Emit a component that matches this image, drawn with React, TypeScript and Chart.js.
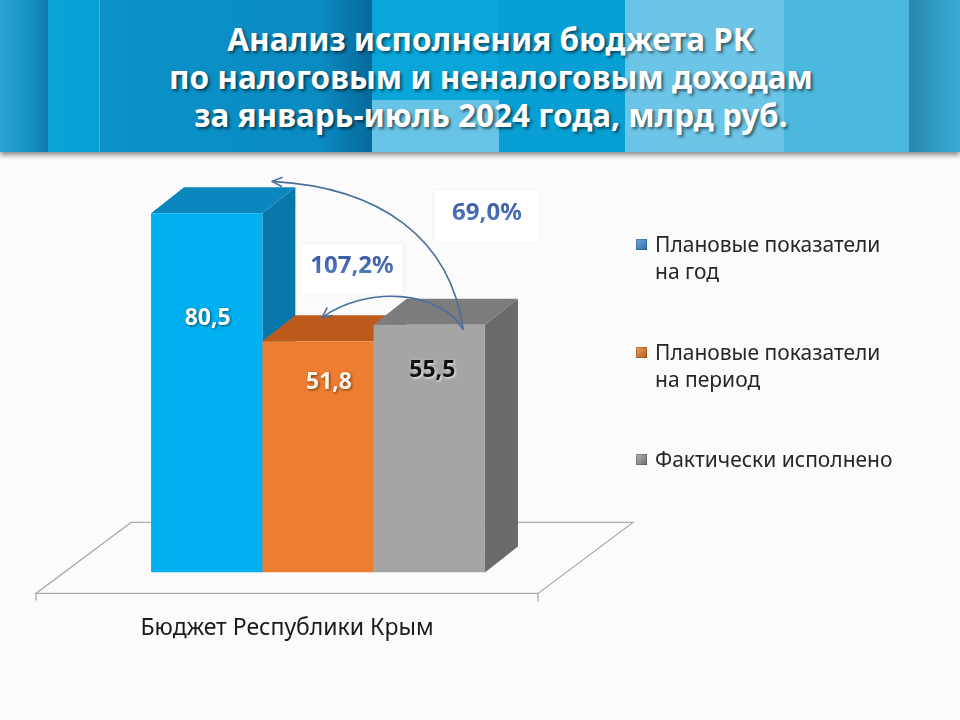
import React, { useEffect, useRef } from "react";
import { Chart, registerables } from "chart.js";

Chart.register(...registerables);

// ---------- data ----------
const titleLines = [
  "Анализ исполнения бюджета РК",
  "по налоговым и неналоговым доходам",
  "за январь-июль 2024 года, млрд руб.",
];
const categories = ["Бюджет Республики Крым"];
const seriesNames = ["Плановые показатели на год", "Плановые показатели на период", "Фактически исполнено"];
const legendLines = [
  ["Плановые показатели", "на год"],
  ["Плановые показатели", "на период"],
  ["Фактически исполнено"],
];
const planYear = [80.5];
const planPeriod = [51.8];
const actual = [55.5];
const percentLabels = ["69,0%", "107,2%"];
const yMax = 90;

// ---------- styles ----------
const FONT = "'Noto Sans', 'Open Sans', sans-serif";
const frontColors = ["#00b0f0", "#ed7d31", "#a5a5a5"];
const topColors = ["#0b87bf", "#bd5b1c", "#7c7c7c"];
const sideColors = ["#0877ab", "#a14c16", "#6a6a6a"];
const valueColors = ["#ffffff", "#fff4ea", "#111111"];
const valueShadow = ["rgba(0,0,0,0.55)", "rgba(0,0,0,0.55)", "rgba(255,255,255,0.9)"];
const valueDX = [1, 11, 3];
const valueDY = [105, 41, 46];
const legendSwatch = [
  "linear-gradient(135deg,#6aa8dc,#2f6fae)",
  "linear-gradient(135deg,#f0a060,#b85a18)",
  "linear-gradient(135deg,#b5b5b5,#6c6c6c)",
];
const DX = 33;
const DY = -26;

const fmt = (v: number) => v.toFixed(1).replace(".", ",");

const threeD = {
  id: "threeD",
  beforeDatasetsDraw(chart: any) {
    const { ctx, chartArea } = chart;
    const B = chartArea.bottom;
    const cx = (chartArea.left + chartArea.right) / 2;
    // floor
    const fc = cx - 31;
    const half = 251;
    const fy = B + 21;
    const by = B - 50;
    const fdx = 95;
    ctx.save();
    ctx.strokeStyle = "#ababab";
    ctx.lineWidth = 1.3;
    ctx.beginPath();
    ctx.moveTo(fc - half, fy);
    ctx.lineTo(fc + half, fy);
    ctx.lineTo(fc + half + fdx, by);
    ctx.lineTo(fc - half + fdx, by);
    ctx.closePath();
    ctx.stroke();
    ctx.beginPath();
    ctx.moveTo(fc - half, fy);
    ctx.lineTo(fc - half, fy + 7);
    ctx.moveTo(fc + half, fy);
    ctx.lineTo(fc + half, fy + 8);
    ctx.stroke();
    // tops and sides
    for (let i = 0; i < chart.data.datasets.length; i++) {
      const el = chart.getDatasetMeta(i).data[0];
      if (!el) continue;
      const x0 = el.x - el.width / 2;
      const x1 = el.x + el.width / 2;
      const t = el.y;
      const b = el.base;
      ctx.fillStyle = sideColors[i];
      ctx.beginPath();
      ctx.moveTo(x1, t);
      ctx.lineTo(x1 + DX, t + DY);
      ctx.lineTo(x1 + DX, b + DY);
      ctx.lineTo(x1, b);
      ctx.closePath();
      ctx.fill();
      ctx.fillStyle = topColors[i];
      ctx.beginPath();
      ctx.moveTo(x0, t);
      ctx.lineTo(x0 + DX, t + DY);
      ctx.lineTo(x1 + DX, t + DY);
      ctx.lineTo(x1, t);
      ctx.closePath();
      ctx.fill();
    }
    ctx.restore();
  },
  afterDatasetsDraw(chart: any) {
    const { ctx } = chart;
    const els = [0, 1, 2].map((i) => chart.getDatasetMeta(i).data[0]);
    ctx.save();
    // value labels
    ctx.font = `bold 23px ${FONT}`;
    ctx.textAlign = "center";
    ctx.textBaseline = "middle";
    chart.data.datasets.forEach((ds: any, i: number) => {
      const el = els[i];
      ctx.save();
      ctx.shadowColor = valueShadow[i];
      ctx.shadowBlur = 3;
      ctx.shadowOffsetX = 1;
      ctx.shadowOffsetY = 1;
      ctx.fillStyle = valueColors[i];
      ctx.fillText(fmt(ds.data[0]), el.x + valueDX[i], el.y + valueDY[i]);
      ctx.restore();
    });

    const blue = els[0], orange = els[1], gray = els[2];
    // percent boxes
    const boxes = [
      { cx: gray.x + gray.width / 2 + 2, cy: blue.y + 3, w: 105, h: 52, text: percentLabels[0] },
      { cx: orange.x + 34, cy: orange.y - 72, w: 101, h: 50, text: percentLabels[1] },
    ];
    boxes.forEach((bx) => {
      ctx.save();
      ctx.shadowColor = "rgba(0,0,0,0.05)";
      ctx.shadowBlur = 4;
      ctx.fillStyle = "#ffffff";
      ctx.fillRect(bx.cx - bx.w / 2, bx.cy - bx.h / 2, bx.w, bx.h);
      ctx.restore();
      ctx.font = `bold 24px ${FONT}`;
      const g = ctx.createLinearGradient(0, bx.cy - 12, 0, bx.cy + 12);
      g.addColorStop(0, "#3c5ea8");
      g.addColorStop(1, "#5a86c8");
      ctx.fillStyle = g;
      ctx.fillText(bx.text, bx.cx, bx.cy - 3);
    });

    // arrows
    const sx = gray.x + 34;
    const sy = gray.y + 5;
    const arrows = [
      { ex: blue.x + blue.width / 2 + 10, ey: blue.y - 32, c1: [-13, -92], c2: [108, 6] },
      { ex: orange.x + 4, ey: orange.y - 24, c1: [-23, -40], c2: [45, -32] },
    ];
    ctx.strokeStyle = "#4a6f9c";
    ctx.lineWidth = 1.6;
    arrows.forEach((a) => {
      const p1x = sx + a.c1[0], p1y = sy + a.c1[1];
      const p2x = a.ex + a.c2[0], p2y = a.ey + a.c2[1];
      ctx.beginPath();
      ctx.moveTo(sx, sy);
      ctx.bezierCurveTo(p1x, p1y, p2x, p2y, a.ex, a.ey);
      ctx.stroke();
      const ang = Math.atan2(a.ey - p2y, a.ex - p2x);
      const L = 11;
      ctx.beginPath();
      ctx.moveTo(a.ex - L * Math.cos(ang - 0.45), a.ey - L * Math.sin(ang - 0.45));
      ctx.lineTo(a.ex, a.ey);
      ctx.lineTo(a.ex - L * Math.cos(ang + 0.45), a.ey - L * Math.sin(ang + 0.45));
      ctx.stroke();
    });
    ctx.restore();
  },
};

export default function App() {
  const ref = useRef<HTMLCanvasElement | null>(null);

  useEffect(() => {
    if (!ref.current) return;
    const chart = new Chart(ref.current, {
      type: "bar",
      data: {
        labels: categories,
        datasets: [
          { label: seriesNames[0], data: planYear, backgroundColor: frontColors[0] },
          { label: seriesNames[1], data: planPeriod, backgroundColor: frontColors[1] },
          { label: seriesNames[2], data: actual, backgroundColor: frontColors[2] },
        ],
      },
      options: {
        responsive: false,
        animation: false,
        devicePixelRatio: 1,
        datasets: { bar: { barPercentage: 1, categoryPercentage: 0.888, borderWidth: 0 } },
        layout: { padding: { top: 171, left: 130, right: 454, bottom: 36 } },
        scales: {
          x: {
            grid: { display: false, drawTicks: false },
            border: { display: false },
            ticks: {
              padding: 42,
              labelOffset: -31,
              color: "#1a1a1a",
              font: { family: FONT, size: 23 },
            },
          },
          y: { display: false, min: 0, max: yMax },
        },
        plugins: {
          legend: { display: false },
          tooltip: { enabled: false },
          title: { display: false },
        },
      },
      plugins: [threeD],
    });
    return () => chart.destroy();
  }, []);

  const stripes =
    "linear-gradient(to right, #29a4d3 0px, #1691c4 30px, #0b7aab 48px, #09a3d6 48px, #08a1d4 99px, #3fb0dc 99px, #3fb0dc 100px, #0a92c9 100px, #0a8bc2 320px, #07699b 372px, #0aa6da 372px, #0aa6da 499px, #089fd4 499px, #089fd4 625px, #6cc5e6 625px, #6cc5e6 784px, #4cb8de 784px, #4cb8de 909px, #2a86ae 909px, #36acd6 960px)";

  return (
    <div
      style={{
        position: "absolute",
        left: 0,
        top: 0,
        width: 960,
        height: 720,
        overflow: "hidden",
        background: "#fbfbfb",
        fontFamily: FONT,
      }}
    >
      <div
        style={{
          position: "absolute",
          left: 0,
          top: 0,
          width: 960,
          height: 152,
          background: stripes,
          boxShadow: "0 3px 5px rgba(0,0,0,0.45)",
        }}
      >
        <div
          style={{
            position: "absolute",
            left: 372,
            top: 100,
            width: 127,
            height: 52,
            background: "#68c4e6",
          }}
        />
        <div
          style={{
            position: "absolute",
            left: 0,
            top: 20,
            width: 982,
            textAlign: "center",
            color: "#ffffff",
            fontWeight: 700,
            fontSize: 31.5,
            lineHeight: "38px",
            textShadow: "2px 2px 3px rgba(0,0,0,0.55)",
            whiteSpace: "nowrap",
          }}
        >
          {titleLines.map((l, i) => (
            <div key={i}>{l}</div>
          ))}
        </div>
      </div>
      <canvas
        ref={ref}
        width={960}
        height={720}
        style={{ position: "absolute", left: 0, top: 0, width: 960, height: 720 }}
      />
      {legendLines.map((lines, i) => (
        <div
          key={i}
          style={{
            position: "absolute",
            left: 636,
            top: [231, 339, 446][i],
            color: "#262626",
            fontSize: 21,
            lineHeight: "27px",
            whiteSpace: "nowrap",
          }}
        >
          <span
            style={{
              position: "absolute",
              left: 0,
              top: 8,
              width: 11,
              height: 11,
              background: legendSwatch[i],
              boxShadow: "inset 0 0 0 1px rgba(0,0,0,0.2)",
            }}
          />
          <div style={{ marginLeft: 19 }}>
            {lines.map((l, j) => (
              <div key={j}>{l}</div>
            ))}
          </div>
        </div>
      ))}
    </div>
  );
}
